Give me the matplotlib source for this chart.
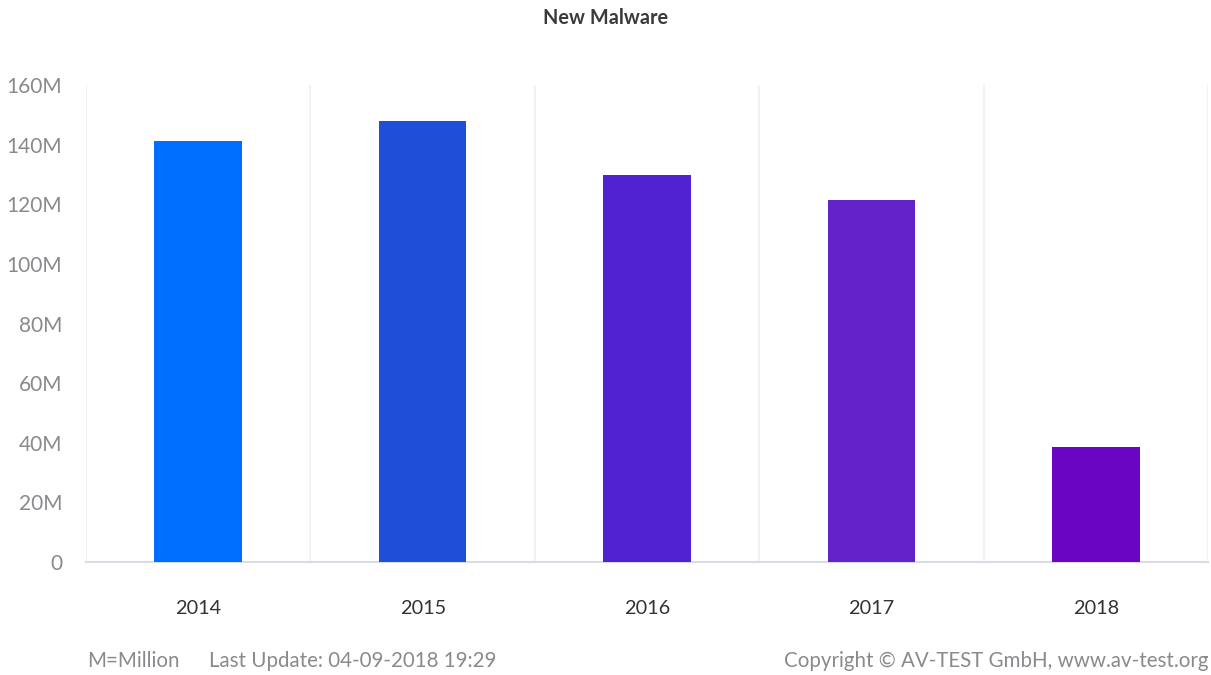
import matplotlib
matplotlib.use("Agg")
import matplotlib.pyplot as plt
from matplotlib.ticker import FuncFormatter

years = ["2014", "2015", "2016", "2017", "2018"]
new_malware_m = [141.3, 148.0, 129.9, 121.5, 38.6]
bar_colors = ["#006EFF", "#1F4ED8", "#5122D1", "#6422CA", "#6A05C4"]
yticks = [0, 20, 40, 60, 80, 100, 120, 140, 160]

plt.rcParams['font.family'] = ['Lato', 'DejaVu Sans']

fig = plt.figure(figsize=(12.11, 6.75), dpi=100)
ax = fig.add_axes([86/1211, 1-562/675, (1208-86)/1211, (562-85)/675])

x = list(range(len(years)))
ax.bar(x, new_malware_m, width=0.39, color=bar_colors, zorder=3)

ax.set_xlim(-0.5, len(years) - 0.5)
ax.set_ylim(0, 160)
ax.set_yticks(yticks)
ax.yaxis.set_major_formatter(FuncFormatter(lambda v, p: "0" if v == 0 else f"{int(v)}M"))
ax.set_xticks(x)
ax.set_xticklabels(years)

# vertical separators at category boundaries
for b in [i - 0.5 for i in range(len(years) + 1)]:
    ax.axvline(b, color="#F0F0F2", lw=1.2, zorder=1)

for s in ["top", "right", "left"]:
    ax.spines[s].set_visible(False)
ax.spines["bottom"].set_color("#D8DCE4")
ax.spines["bottom"].set_linewidth(1.5)

ax.tick_params(axis="y", length=0, pad=17, labelsize=15, labelcolor="#8A8A8E")
ax.tick_params(axis="x", length=0, pad=27, labelsize=14.3, labelcolor="#333333")

fig.text(0.5, 1-18/675, "New Malware", ha="center", va="center", fontsize=14.3,
         fontweight="bold", color="#3A3A3A")
fig.text(87/1211, 1-661/675, "M=Million", ha="left", va="center", fontsize=14.8, color="#8A8A8E")
fig.text(209/1211, 1-661/675, "Last Update: 04-09-2018 19:29", ha="left", va="center",
         fontsize=14.8, color="#8A8A8E")
fig.text(1209/1211, 1-661/675, "Copyright © AV-TEST GmbH, www.av-test.org", ha="right",
         va="center", fontsize=14.8, color="#8A8A8E")

fig.savefig("out.png", dpi=100)
